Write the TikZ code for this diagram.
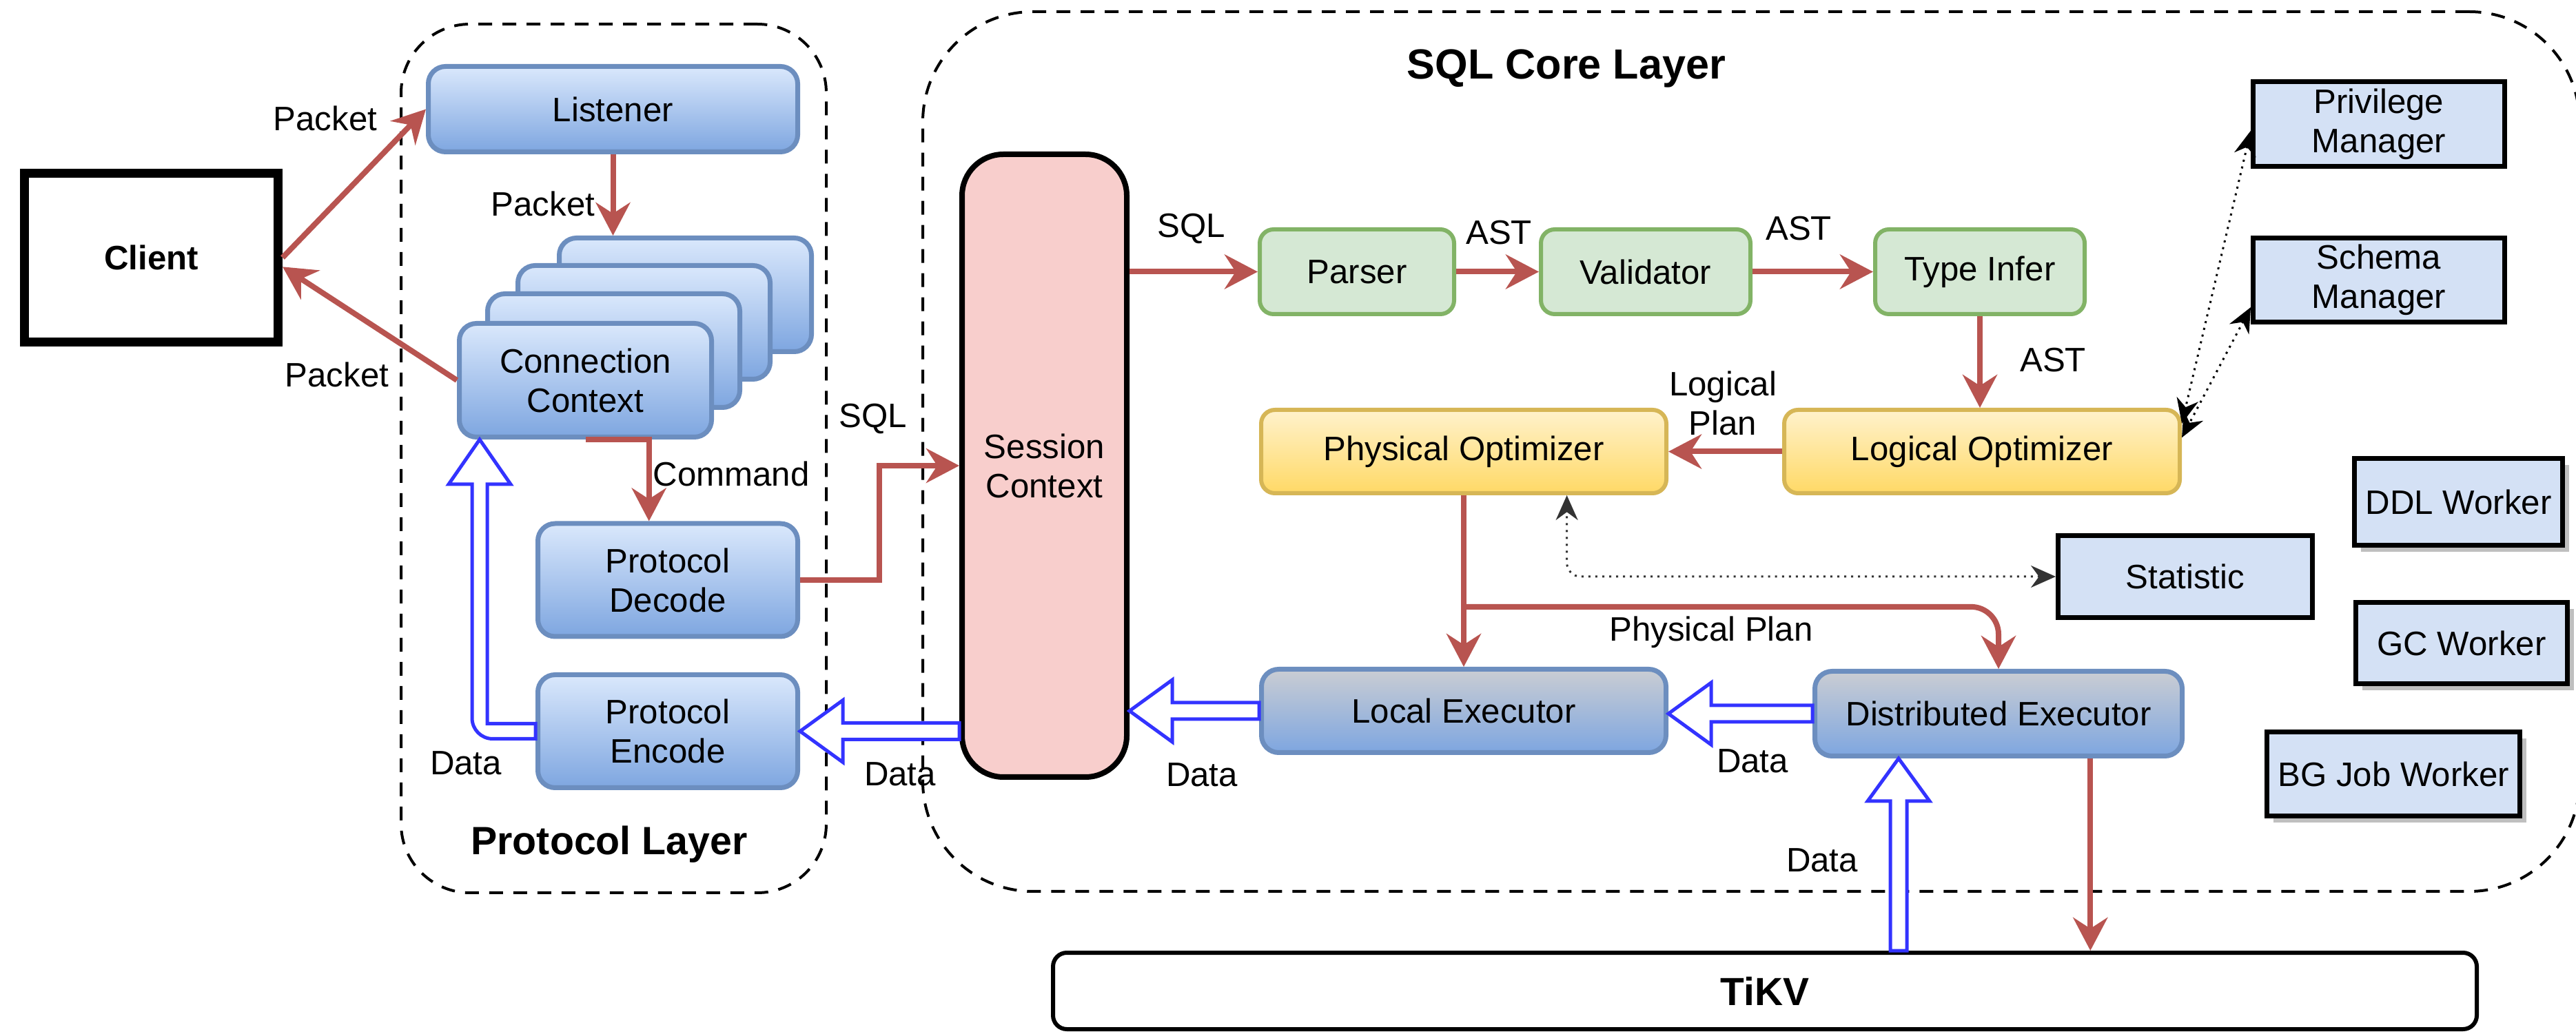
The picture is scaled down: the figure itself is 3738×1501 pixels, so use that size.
\documentclass[tikz,border=0pt]{standalone}
\usepackage{fontspec}
\setmainfont{Liberation Sans}
\usepackage{tikz}
\usetikzlibrary{arrows.meta,calc,shadows}
\definecolor{flowred}{HTML}{B85450}
\definecolor{datablue}{HTML}{3333FF}
\definecolor{boxline}{HTML}{6C8EBF}
\definecolor{bluetop}{HTML}{DAE8FC}
\definecolor{bluebot}{HTML}{7EA6E0}
\definecolor{greytop}{HTML}{CACDD3}
\definecolor{greenfill}{HTML}{D5E8D4}
\definecolor{greenline}{HTML}{82B366}
\definecolor{yellowtop}{HTML}{FFF2CC}
\definecolor{yellowbot}{HTML}{FFD966}
\definecolor{yellowline}{HTML}{D6B656}
\definecolor{sessfill}{HTML}{F8CECC}
\definecolor{mgrfill}{HTML}{D4E1F5}
\newcommand{\dataarrow}[2]{%
\path (#1) coordinate (da) (#2) coordinate (db);
\coordinate (dc) at ($(db)!6.2mm!(da)$);
\draw [hollow] ($(da)!1.2mm!90:(db)$) -- ($(dc)!1.2mm!90:(db)$) -- ($(dc)!4.5mm!90:(db)$) -- (db) -- ($(dc)!4.5mm!-90:(db)$) -- ($(dc)!1.2mm!-90:(db)$) -- ($(da)!1.2mm!-90:(db)$) -- cycle;}

\begin{document}
\begin{tikzpicture}[x=0.1mm,y=-0.1mm,
  every node/.style={font=\fontsize{14}{16.2}\selectfont},
  blockbox/.style={draw=boxline,line width=0.7mm,rounded corners=2.5mm,top color=bluetop,bottom color=bluebot,align=center,inner sep=0pt},
  execbox/.style={blockbox,top color=greytop},
  checkbox/.style={draw=greenline,fill=greenfill,line width=0.6mm,rounded corners=2mm,inner sep=0pt},
  optbox/.style={draw=yellowline,line width=0.6mm,rounded corners=2mm,top color=yellowtop,bottom color=yellowbot,inner sep=0pt},
  mgrbox/.style={draw=black,line width=0.7mm,fill=mgrfill,align=center,inner sep=0pt},
  workerbox/.style={mgrbox,drop shadow={shadow xshift=0.9mm,shadow yshift=-1mm,fill=black!25,opacity=1}},
  layer/.style={draw=black,dash pattern=on 2mm off 1.5mm,line width=0.4mm},
  flow/.style={draw=flowred,line width=0.8mm,-{Stealth[length=4.8mm,width=5mm,inset=1.6mm]}},
  hint/.style={draw=black,line width=0.3mm,dotted,{Stealth[length=3.6mm,width=3.2mm]}-{Stealth[length=3.6mm,width=3.2mm]}},
  hollow/.style={draw=datablue,line width=0.5mm,fill=white,line join=miter}]
\useasboundingbox (0,0) rectangle (3738,1501);
% layers
\node (protolayer) at (890.5,665.5)[layer,rounded corners=10mm,minimum width=61.7mm,minimum height=126.1mm] {};
\node (sqllayer) at (2541,655.5)[layer,rounded corners=16mm,minimum width=240.4mm,minimum height=127.7mm] {};
\node (protoname) at (884,1226)[font=\bfseries\fontsize{16.3}{19}\selectfont] {Protocol Layer};
\node (sqlname) at (2273,100)[font=\bfseries\fontsize{17.4}{20}\selectfont] {SQL Core Layer};
% protocol layer
\node (client) at (219.5,374)[draw=black,line width=1.3mm,fill=white,minimum width=36.8mm,minimum height=24.5mm,font=\bfseries\fontsize{14}{16}\selectfont] {Client};
\node (listen) at (889.5,158.5)[blockbox,minimum width=53.6mm,minimum height=12.4mm] {Listener};
\node (conn3) at (994.5,428)[blockbox,minimum width=36.6mm,minimum height=16.5mm] {};
\node (conn2) at (934.5,468)[blockbox,minimum width=36.6mm,minimum height=16.5mm] {};
\node (conn1) at (890.5,509)[blockbox,minimum width=36.6mm,minimum height=16.5mm] {};
\node (conn) at (849.5,552)[blockbox,minimum width=36.6mm,minimum height=16.5mm] {Connection\\Context};
\node (dec) at (969,842)[blockbox,minimum width=37.7mm,minimum height=16.4mm] {Protocol\\Decode};
\node (enc) at (969,1061.5)[blockbox,minimum width=37.7mm,minimum height=16.4mm] {Protocol\\Encode};
% sql core layer
\node (sess) at (1515.5,676)[draw=black,line width=0.8mm,fill=sessfill,rounded corners=6mm,minimum width=23.9mm,minimum height=90.4mm,align=center,inner sep=0pt] {Session\\Context};
\node (parse) at (1969,394.5)[checkbox,minimum width=28.2mm,minimum height=12.3mm] {Parser};
\node (valid) at (2388,394.5)[checkbox,minimum width=30.4mm,minimum height=12.3mm] {Validator};
\node (infer) at (2873,394.5)[checkbox,minimum width=30.4mm,minimum height=12.3mm] {Type Infer};
\node (phys) at (2124,655.5)[optbox,minimum width=58.8mm,minimum height=12.1mm] {Physical Optimizer};
\node (logic) at (2876,655.5)[optbox,minimum width=57.4mm,minimum height=12.1mm] {Logical Optimizer};
\node (loc) at (2124,1032)[execbox,minimum width=58.7mm,minimum height=12.1mm] {Local Executor};
\node (dist) at (2900,1036)[execbox,minimum width=53.3mm,minimum height=12.3mm] {Distributed Executor};
\node (priv) at (3452,180)[mgrbox,minimum width=36.5mm,minimum height=12.3mm] {Privilege\\Manager};
\node (schema) at (3452,406.5)[mgrbox,minimum width=36.5mm,minimum height=12.2mm] {Schema\\Manager};
\node (stat) at (3171,837)[mgrbox,minimum width=36.9mm,minimum height=11.9mm] {Statistic};
\node (ddl) at (3567.5,728.5)[workerbox,minimum width=30.2mm,minimum height=12.6mm] {DDL Worker};
\node (gc) at (3572,933.5)[workerbox,minimum width=30.7mm,minimum height=11.8mm] {GC Worker};
\node (bgjob) at (3473,1123.5)[workerbox,minimum width=36.7mm,minimum height=12.2mm] {BG Job Worker};
\node (tikv) at (2561,1438.5)[draw=black,line width=0.6mm,fill=white,rounded corners=2mm,minimum width=206.6mm,minimum height=11.1mm,font=\bfseries\fontsize{16.2}{19}\selectfont] {TiKV};
% labels
\node (pkt1) at (472,172) {Packet};
\node (pkt2) at (788,296) {Packet};
\node (pkt3) at (489,544) {Packet};
\node (cmd) at (1061,688) {Command};
\node (sql1) at (1267,608) {SQL};
\node (data1) at (676,1108) {Data};
\node (data2) at (1306,1124) {Data};
\node (sql2) at (1729,332) {SQL};
\node (ast1) at (2175,338) {AST};
\node (ast2) at (2610,332) {AST};
\node (ast3) at (2979,523) {AST};
\node (lplan) at (2500,585)[align=center] {Logical\\Plan};
\node (pplan) at (2483,918) {Physical Plan};
\node (data3) at (1744,1125) {Data};
\node (data4) at (2543,1105) {Data};
\node (data5) at (2644,1249) {Data};
% control flow
\draw [flow] (client.east) -- (listen.west);
\draw [flow] (conn.west) -- (client.-4);
\draw [flow] (listen.south) -- (listen.south |- conn3.north);
\draw [flow] (conn.south) -| (conn.-43 |- dec.north);
\draw [flow] (dec.east) -- ++(115,0) |- (sess.west);
\draw [flow] (sess.east |- parse.west) -- (parse.west);
\draw [flow] (parse.east) -- (valid.west);
\draw [flow] (valid.east) -- (infer.west);
\draw [flow] (infer.south) -- (infer.south |- logic.north);
\draw [flow] (logic.west) -- (phys.east);
\draw [flow] (phys.south) -- (loc.north);
\draw [flow,rounded corners=4mm] ($(phys.south)!0.65!(loc.north)$) -| (dist.north);
\draw [flow] (dist.-26) -- (dist.-26 |- tikv.north);
% lookups
\draw [hint] (priv.183) -- (logic.8.5);
\draw [hint] (schema.192) -- (logic.4);
\draw [hint,draw=black!80,rounded corners=2mm] (stat.west) -| (phys.-23.5);
% data flow
\dataarrow{sess.west |- enc.east}{enc.east}
\dataarrow{loc.west}{sess.east |- loc.west}
\dataarrow{dist.west}{loc.east |- dist.west}
\coordinate (dup) at ($(dist.south west)+(125,0)$);
\dataarrow{tikv.north -| dup}{dup}
\coordinate (cup) at ($(conn.south west)+(33,0)$);
\coordinate (eL) at ($(enc.west)+(0,11)$);
\coordinate (eU) at ($(enc.west)+(0,-11)$);
\coordinate (cL) at ($(cup)+(-11,65)$);
\coordinate (cR) at ($(cup)+(11,65)$);
\draw [hollow] (eL) [rounded corners=3mm] -- (cL |- eL) [sharp corners] -- (cL) -- ($(cup)+(-45,65)$) -- (cup) -- ($(cup)+(45,65)$) -- (cR) -- (cR |- eU) -- (eU) -- cycle;
\end{tikzpicture}
\end{document}
